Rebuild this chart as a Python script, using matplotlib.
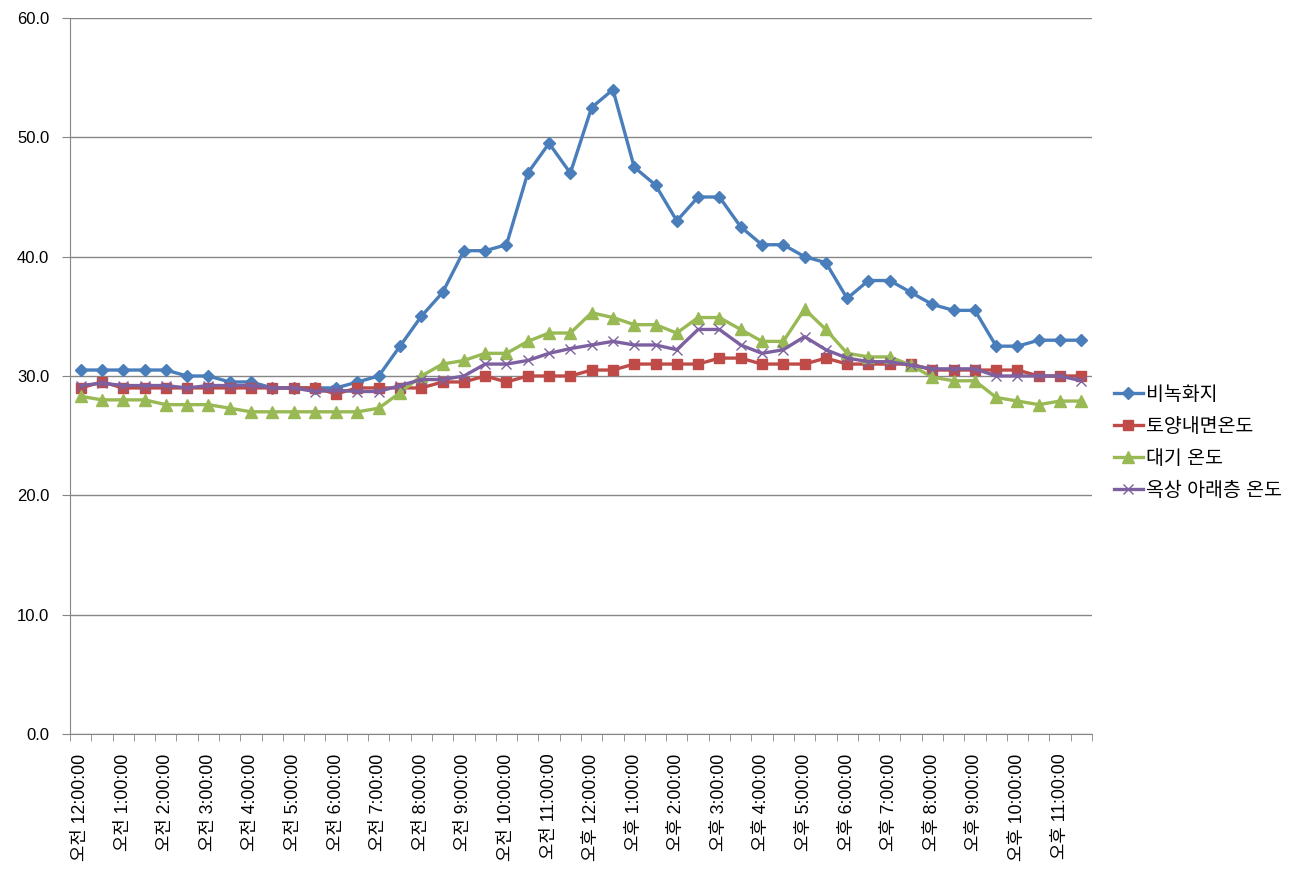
import matplotlib
matplotlib.use('Agg')
import matplotlib.pyplot as plt
import numpy as np

plt.rcParams['font.family'] = ['Liberation Sans', 'Noto Sans CJK KR']

hours = ['12', '1', '2', '3', '4', '5', '6', '7', '8', '9', '10', '11']
tick_labels = ['오전 %s:00:00' % h for h in hours] + ['오후 %s:00:00' % h for h in hours]

bare_ground = [30.5, 30.5, 30.5, 30.5, 30.5, 30.0, 30.0, 29.5, 29.5, 29.0, 29.0, 29.0,
               29.0, 29.5, 30.0, 32.5, 35.0, 37.0, 40.5, 40.5, 41.0, 47.0, 49.5, 47.0,
               52.5, 54.0, 47.5, 46.0, 43.0, 45.0, 45.0, 42.5, 41.0, 41.0, 40.0, 39.5,
               36.5, 38.0, 38.0, 37.0, 36.0, 35.5, 35.5, 32.5, 32.5, 33.0, 33.0, 33.0]
soil_inner = [29.0, 29.5, 29.0, 29.0, 29.0, 29.0, 29.0, 29.0, 29.0, 29.0, 29.0, 29.0,
              28.5, 29.0, 29.0, 29.0, 29.0, 29.5, 29.5, 30.0, 29.5, 30.0, 30.0, 30.0,
              30.5, 30.5, 31.0, 31.0, 31.0, 31.0, 31.5, 31.5, 31.0, 31.0, 31.0, 31.5,
              31.0, 31.0, 31.0, 31.0, 30.5, 30.5, 30.5, 30.5, 30.5, 30.0, 30.0, 30.0]
air_temp = [28.3, 28.0, 28.0, 28.0, 27.6, 27.6, 27.6, 27.3, 27.0, 27.0, 27.0, 27.0,
            27.0, 27.0, 27.3, 28.6, 30.0, 31.0, 31.3, 31.9, 31.9, 32.9, 33.6, 33.6,
            35.3, 34.9, 34.3, 34.3, 33.6, 34.9, 34.9, 33.9, 32.9, 32.9, 35.6, 33.9,
            31.9, 31.6, 31.6, 30.9, 29.9, 29.6, 29.6, 28.2, 27.9, 27.6, 27.9, 27.9]
roof_below = [29.2, 29.4, 29.2, 29.2, 29.2, 29.0, 29.2, 29.2, 29.2, 29.0, 29.0, 28.7,
              28.8, 28.7, 28.7, 29.2, 29.7, 29.7, 30.0, 31.0, 31.0, 31.3, 31.9, 32.3,
              32.6, 32.9, 32.6, 32.6, 32.2, 33.9, 33.9, 32.6, 31.9, 32.2, 33.3, 32.2,
              31.5, 31.2, 31.2, 30.9, 30.6, 30.6, 30.6, 30.0, 30.0, 30.0, 30.0, 29.6]

series_names = ['비녹화지', '토양내면온도', '대기 온도', '옥상 아래층 온도']

fig = plt.figure(figsize=(12.97, 8.77), dpi=100)
ax = fig.add_axes([70/1297, 1 - 734/877, 1022/1297, 716/877])

x = np.arange(len(bare_ground))
grid_c = '#868686'

ax.plot(x, bare_ground, color='#4A7EBB', lw=2.4, marker='D', ms=6.5, label=series_names[0])
ax.plot(x, soil_inner, color='#BE4B48', lw=2.4, marker='s', ms=7.5, label=series_names[1])
ax.plot(x, air_temp, color='#98B954', lw=2.4, marker='^', ms=8, label=series_names[2])
ax.plot(x, roof_below, color='#7D60A0', lw=2.4, marker='x', ms=7, mew=1.0,
        label=series_names[3])

ax.set_xlim(-0.5, len(x) - 0.5)
ax.set_ylim(0, 60)
ax.set_yticks(np.arange(0, 61, 10))
ax.set_yticklabels(['%.1f' % v for v in np.arange(0, 61, 10)], fontsize=12)
ax.yaxis.grid(True, color=grid_c, lw=1)
ax.set_axisbelow(True)

ax.set_xticks(x[::2])
ax.set_xticklabels(tick_labels, rotation=90, fontsize=12.8, va='top', ha='center')
ax.set_xticks(np.arange(-0.5, len(x)), minor=True)
ax.tick_params(axis='x', which='major', length=0, pad=14)
ax.tick_params(axis='x', which='minor', length=5, color=grid_c, direction='out')
ax.tick_params(axis='y', length=6, color=grid_c, pad=9)

for s in ['top', 'right']:
    ax.spines[s].set_visible(False)
for s in ['left', 'bottom']:
    ax.spines[s].set_color(grid_c)

fig.legend(loc='center left', bbox_to_anchor=(1106/1297, 1 - 443/877), frameon=False,
           fontsize=14, handlelength=1.5, handletextpad=0.15, labelspacing=0.72,
           borderaxespad=0)

fig.savefig('out.png', dpi=100)
